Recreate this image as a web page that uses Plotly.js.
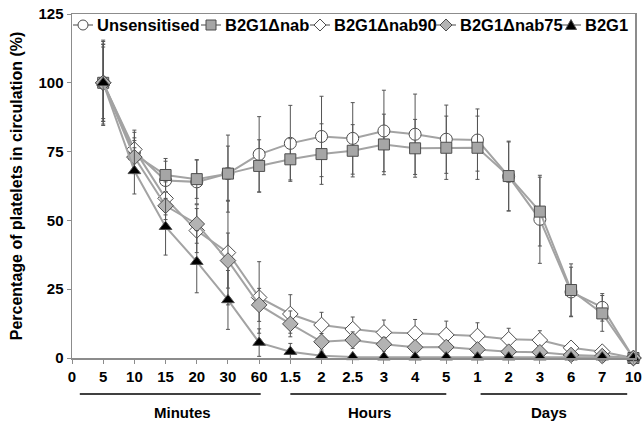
<!DOCTYPE html>
<html>
<head>
<meta charset="utf-8">
<script src="https://cdn.plot.ly/plotly-3.0.1.min.js"></script>
<style>
  html, body { margin: 0; padding: 0; background: #fff; }
  #chart { width: 644px; height: 428px; }
</style>
</head>
<body>
<div id="chart"></div>
<script>
// Category tick labels (index positions 0..18)
const tickLabels = ['0','5','10','15','20','30','60','1.5','2','2.5','3','4','5','1','2','3','6','7','10'];
// Data are measured at every label after "0"
const sampleLabels = tickLabels.slice(1);

const seriesNames = ['Unsensitised', 'B2G1\u0394nab', 'B2G1\u0394nab90', 'B2G1\u0394nab75', 'B2G1'];

const unsensitised    = [100, 75, 64.5, 64, 67, 74, 78, 80.5, 79.8, 82.5, 81.3, 79.5, 79.2, 66, 50.4, 24, 18.4, 0];
const unsensitisedErr = [15.5, 7, 7, 8, 14, 13.7, 13.8, 14.6, 13, 14.8, 14.6, 12.4, 11.3, 12.5, 16, 9, 5, 0];

const b2g1Dnab        = [100, 74, 66.5, 65, 67, 69.8, 72.2, 74.1, 75.3, 77.6, 76.2, 76.4, 76.4, 66.1, 53.2, 24.7, 16.2, 0];
const b2g1DnabErr     = [14, 6, 6, 7, 10, 9.5, 7.5, 11, 9.5, 11, 10.5, 11.5, 11.5, 12.7, 12.5, 9.5, 6.5, 0];

const b2g1Dnab90      = [100, 75.8, 58, 46.3, 38.3, 22, 16, 12, 10.5, 9.3, 9, 8.4, 8, 6.8, 6.5, 3.7, 2.3, 0];
const b2g1Dnab90Err   = [15, 7, 6, 8, 19, 13, 7, 4.6, 4.4, 4.5, 5, 5, 4.8, 4, 3.4, 1, 1, 0];

const b2g1Dnab75      = [100, 73, 55.3, 48.7, 35.4, 19.3, 12.4, 5.9, 6.5, 5, 3.9, 4, 3.1, 2.3, 2.1, 1.1, 0.7, 0];
const b2g1Dnab75Err   = [13, 6, 5, 7, 10, 6, 4.7, 3, 3, 2.5, 2, 2, 2, 1.5, 1.5, 1, 0.5, 0];

const b2g1            = [100, 68, 47.7, 35, 21.1, 5.6, 2.3, 0.8, 0.4, 0.3, 0.3, 0.3, 0.3, 0.3, 0.3, 0.3, 0.3, 0];
const b2g1Err         = [14, 8.4, 10.3, 11.3, 10.7, 5, 3, 1.5, 0.5, 0.5, 0.5, 0.5, 0.5, 0.3, 0.3, 0.3, 0.3, 0];

const yTickVals = [0, 25, 50, 75, 100, 125];

const groupNames = ['Minutes', 'Hours', 'Days'];

// ---- build ----
const xIdx = sampleLabels.map((_, i) => tickLabels.indexOf(sampleLabels[0]) + i);

const FONT = 'Liberation Sans, Arial, sans-serif';
const lineColor = '#a3a3a3';
const edge = '#4d4d4d';

const styles = [
  { symbol: 'circle', fill: '#ffffff', size: 12 },
  { symbol: 'square', fill: '#a6a6a6', size: 11 },
  { symbol: 'diamond', fill: '#ffffff', size: 12 },
  { symbol: 'diamond', fill: '#b3b3b3', size: 12 },
  { symbol: 'triangle-up', fill: '#000000', size: 11 }
];

function mk(k, y, err) {
  const s = styles[k];
  return {
    type: 'scatter', mode: 'lines+markers', name: seriesNames[k],
    x: xIdx, y: y,
    cliponaxis: false,
    line: { color: lineColor, width: 2 },
    marker: { symbol: s.symbol, color: s.fill, size: s.size, line: { color: edge, width: 1 } },
    error_y: { type: 'data', array: err, visible: true, color: '#555555', thickness: 1, width: 2 }
  };
}

const traces = [
  mk(0, unsensitised, unsensitisedErr),
  mk(1, b2g1Dnab, b2g1DnabErr),
  mk(2, b2g1Dnab90, b2g1Dnab90Err),
  mk(3, b2g1Dnab75, b2g1Dnab75Err),
  mk(4, b2g1, b2g1Err)
];

// ---- compact Excel-style legend drawn with shapes + annotations ----
const M = { l: 72, r: 9, t: 14, b: 70 };
const W = 644, H = 428;
const PW = W - M.l - M.r, PH = H - M.t - M.b;
const px2x = p => (p - M.l) / PW;
const py2y = p => (H - M.b - p) / PH;
const legendStarts = [73, 201, 310, 436, 561];
const legendY = py2y(25);
const legShapes = [], legAnn = [];
styles.forEach((s, k) => {
  const p0 = legendStarts[k];
  const cx = px2x(p0 + 10);
  legShapes.push({ type: 'line', xref: 'paper', yref: 'paper', x0: px2x(p0), x1: px2x(p0 + 20), y0: legendY, y1: legendY,
                   line: { color: lineColor, width: 2 }, layer: 'above' });
  const base = { xref: 'paper', yref: 'paper', xsizemode: 'pixel', ysizemode: 'pixel', xanchor: cx, yanchor: legendY,
                 fillcolor: s.fill, line: { color: edge, width: 1 }, layer: 'above' };
  if (s.symbol === 'circle') legShapes.push(Object.assign({ type: 'circle', x0: -5, x1: 5, y0: -5, y1: 5 }, base));
  else if (s.symbol === 'square') legShapes.push(Object.assign({ type: 'rect', x0: -5, x1: 5, y0: -5, y1: 5 }, base));
  else if (s.symbol === 'diamond') legShapes.push(Object.assign({ type: 'path', path: 'M 0 6 L 6 0 L 0 -6 L -6 0 Z' }, base));
  else legShapes.push(Object.assign({ type: 'path', path: 'M -5.5 -4.5 L 5.5 -4.5 L 0 5.5 Z' }, base));
  legAnn.push({ text: seriesNames[k], xref: 'paper', yref: 'paper', x: px2x(p0 + 22), y: legendY,
                xanchor: 'left', yanchor: 'middle', showarrow: false,
                font: { family: FONT, size: 16.5, weight: 'bold', color: '#000' } });
});

const layout = {
  width: W, height: H,
  margin: M,
  paper_bgcolor: '#ffffff', plot_bgcolor: '#ffffff',
  font: { family: FONT, size: 15, color: '#000' },
  showlegend: false,
  xaxis: {
    range: [0, 18.05], tickmode: 'array',
    tickvals: tickLabels.map((_, i) => i), ticktext: tickLabels,
    showgrid: false, zeroline: false,
    showline: true, linecolor: '#8c8c8c', linewidth: 1.5, mirror: true,
    ticks: 'outside', ticklen: 4, tickcolor: '#8c8c8c',
    tickfont: { family: FONT, size: 15, weight: 'bold', color: '#000' }
  },
  yaxis: {
    range: [0, 125], tickvals: yTickVals,
    showgrid: false, zeroline: false,
    showline: true, linecolor: '#8c8c8c', linewidth: 1.5, mirror: true,
    ticks: 'outside', ticklen: 4, tickcolor: '#8c8c8c',
    tickfont: { family: FONT, size: 15, weight: 'bold', color: '#000' },
    title: { text: 'Percentage of platelets in circulation (%)', standoff: 12,
             font: { family: FONT, size: 16, weight: 'bold', color: '#000' } }
  },
  shapes: [
    { type: 'line', xref: 'x', yref: 'paper', x0: 0.25, x1: 6.05, y0: -0.105, y1: -0.105, line: { color: '#000', width: 1.5 } },
    { type: 'line', xref: 'x', yref: 'paper', x0: 7.0, x1: 12.0, y0: -0.105, y1: -0.105, line: { color: '#000', width: 1.5 } },
    { type: 'line', xref: 'x', yref: 'paper', x0: 13.1, x1: 17.8, y0: -0.105, y1: -0.105, line: { color: '#000', width: 1.5 } }
  ].concat(legShapes),
  annotations: [
    { text: groupNames[0], xref: 'x', yref: 'paper', x: 3.55, y: py2y(412), yanchor: 'middle', showarrow: false, font: { family: FONT, size: 15, weight: 'bold' } },
    { text: groupNames[1], xref: 'x', yref: 'paper', x: 9.55, y: py2y(412), yanchor: 'middle', showarrow: false, font: { family: FONT, size: 15, weight: 'bold' } },
    { text: groupNames[2], xref: 'x', yref: 'paper', x: 15.3, y: py2y(412), yanchor: 'middle', showarrow: false, font: { family: FONT, size: 15, weight: 'bold' } }
  ].concat(legAnn)
};

Plotly.newPlot('chart', traces, layout, { displayModeBar: false, staticPlot: true });
</script>
</body>
</html>
